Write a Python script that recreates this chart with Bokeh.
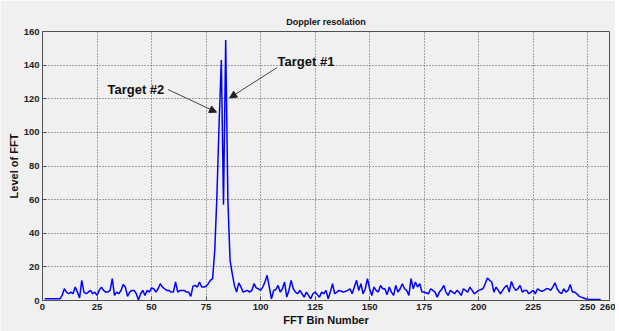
from bokeh.plotting import figure
from bokeh.models import Range1d, FixedTicker, Arrow, NormalHead, Label
from bokeh.embed import file_html
from bokeh.resources import INLINE

# FFT bin numbers 1..256
bins = list(range(1, 257))

# Level of FFT (bins 1..256)
level = [
    1, 1, 1, 1, 1, 1, 1, 1, 3, 7,            # 1-10
    5, 4, 5, 4, 8, 5, 1.5, 12, 5, 4,         # 11-20
    5, 6, 4, 5, 3, 6, 8, 6, 5, 5,            # 21-30
    6, 13, 3, 5, 4, 6, 9.5, 8, 2.5, 5,       # 31-40
    6, 6, 4, 0.3, 4, 6, 3, 6, 5, 7.5,        # 41-50
    7, 5, 7, 10, 8, 7, 6, 6, 5, 5,           # 51-60
    11, 5, 6, 6, 6, 5, 5, 2.5, 8.5, 9,       # 61-70
    8, 11, 8, 8, 8.5, 10, 12, 13, 30, 63,    # 71-80
    106, 143, 57, 155, 60, 24, 16, 9, 5, 10.5,  # 81-90
    8, 5, 5.5, 6, 5, 6, 10, 7.5, 7, 6,       # 91-100
    8, 11, 15, 8, 1, 6, 6.5, 9, 5, 7,        # 101-110
    11, 2, 6, 12, 7, 5, 4, 6, 4, 2,          # 111-120
    5, 3, 1, 4, 5, 3.5, 2, 5, 4, 6,          # 121-130
    1, 5, 10, 4, 5, 6, 5.5, 5, 5.5, 6,       # 131-140
    7, 4, 8, 12, 6, 10, 4, 7, 13, 7,         # 141-150
    3, 8, 6, 5, 9, 7, 7, 3.5, 8, 5,          # 151-160
    3, 9, 5, 7, 10, 7, 6, 3, 13, 7,          # 161-170
    11, 8, 10, 5, 5, 4.5, 4, 7, 6, 5,        # 171-180
    2, 5, 6.5, 9, 5, 3, 6, 5, 4, 6,          # 181-190
    5, 3, 7, 6, 5, 8, 6, 4, 5, 6,            # 191-200
    6.5, 7, 10, 13.3, 12, 11, 5, 8, 6, 4,    # 201-210
    6, 8, 9, 5, 11.3, 8, 6, 7, 9, 5,         # 211-220
    6, 6, 4, 5, 6, 4, 7, 6, 5.5, 6,          # 221-230
    7, 7, 6, 8, 10.5, 7, 5, 4, 7, 5,         # 231-240
    6, 9.5, 5, 5, 4, 2.6, 2, 1.5, 1, 0.6,    # 241-250
    0.6, 0.6, 0.6, 0.6, 0.6, 0.6,            # 251-256
]

x_ticks = [0, 25, 50, 75, 100, 125, 150, 175, 200, 225, 250, 260]
y_ticks = [0, 20, 40, 60, 80, 100, 120, 140, 160]

# annotations: (text, text x, text y, arrow start x, start y, end x, end y)
notes = [
    ("Target #2", 29.8, 125.6, 57.5, 125.5, 79.8, 112.0),
    ("Target #1", 107.8, 142.3, 107.5, 138.5, 85.8, 120.5),
]

BG = "#f0f0f0"
p = figure(width=615, height=331, output_backend="svg", toolbar_location=None,
           x_range=Range1d(0, 260), y_range=Range1d(0, 160),
           title="Doppler resolation",
           min_border_left=42, min_border_right=6, min_border_top=31, min_border_bottom=31)
p.background_fill_color = BG
p.border_fill_color = BG
p.outline_line_color = "#505050"
p.outline_line_width = 1

p.title.text_font = "Liberation Sans"
p.title.text_font_size = "9px"
p.title.text_font_style = "bold"
p.title.align = "center"
p.title.text_color = "#111111"
p.title.offset = 0
p.title.standoff = 10

for ax, ticks in ((p.xaxis[0], x_ticks), (p.yaxis[0], y_ticks)):
    ax.ticker = FixedTicker(ticks=ticks)
    ax.major_tick_in = 4
    ax.major_tick_out = 0
    ax.minor_tick_in = 0
    ax.minor_tick_out = 0
    ax.axis_line_color = "#505050"
    ax.major_tick_line_color = "#505050"
    ax.major_label_text_font = "Liberation Sans"
    ax.major_label_text_font_size = "9.5px"
    ax.major_label_text_font_style = "bold"
    ax.major_label_text_color = "#222222"
    ax.major_label_standoff = 3
    ax.axis_label_text_font = "Liberation Sans"
    ax.axis_label_text_font_size = "11px"
    ax.axis_label_text_font_style = "bold"
    ax.axis_label_text_color = "#111111"
    ax.axis_label_standoff = 1

p.xaxis.axis_label = "FFT Bin Number"
p.yaxis.axis_label = "Level of FFT"

for g in (p.xgrid[0], p.ygrid[0]):
    g.grid_line_color = "#555555"
    g.grid_line_dash = "1 2"
    g.grid_line_width = 1
p.xgrid.ticker = FixedTicker(ticks=x_ticks)
p.ygrid.ticker = FixedTicker(ticks=y_ticks)

p.line(bins, level, line_color="#0000ff", line_width=1.5)

for txt, tx, ty, sx, sy, ex, ey in notes:
    p.add_layout(Arrow(end=NormalHead(size=7, fill_color="#222222", line_color="#222222"),
                       x_start=sx, y_start=sy, x_end=ex, y_end=ey,
                       line_color="#444444", line_width=1))
    p.add_layout(Label(x=tx, y=ty, text=txt, text_font="Liberation Sans",
                       text_font_size="13px", text_font_style="bold",
                       text_baseline="middle", text_align="left", text_color="#111111"))

open("out.html", "w").write(file_html(p, INLINE))
